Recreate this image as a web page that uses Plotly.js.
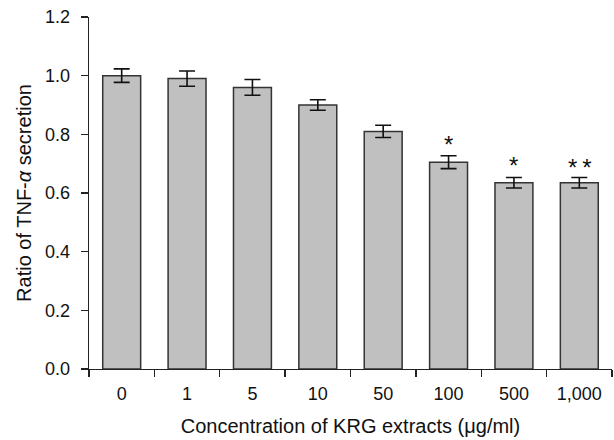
<!DOCTYPE html>
<html>
<head>
<meta charset="utf-8">
<script src="https://cdn.plot.ly/plotly-3.0.1.min.js"></script>
<style>html,body{margin:0;padding:0;background:#fff;} #chart{width:614px;height:440px;}</style>
</head>
<body>
<div id="chart"></div>
<script>
const categories = ['0', '1', '5', '10', '50', '100', '500', '1,000'];
const ratio = [1.00, 0.99, 0.96, 0.90, 0.81, 0.705, 0.635, 0.635];
const errors = [0.023, 0.026, 0.027, 0.018, 0.021, 0.022, 0.018, 0.018];
const significance = ['', '', '', '', '', '*', '*', '*\u2009*'];
const yTicks = [0, 0.2, 0.4, 0.6, 0.8, 1.0, 1.2];
const yTickLabels = ['0.0', '0.2', '0.4', '0.6', '0.8', '1.0', '1.2'];

const FONT = '"Liberation Sans", Arial, Helvetica, sans-serif';

const trace = {
  type: 'bar',
  x: categories,
  y: ratio,
  width: 0.58,
  marker: { color: '#c0c0c0', line: { color: '#333333', width: 1.5 } },
  error_y: { type: 'data', array: errors, visible: true, color: '#111111', thickness: 1.6, width: 8 },
  hoverinfo: 'none'
};

const annotations = [];
significance.forEach((s, i) => {
  if (!s) return;
  annotations.push({
    x: i, y: ratio[i] + errors[i], xref: 'x', yref: 'y',
    text: s, showarrow: false, yanchor: 'bottom',
    yshift: s.length > 1 ? -6 : -4,
    font: { family: FONT, size: 24, color: '#111' }
  });
});

const layout = {
  width: 614, height: 440,
  margin: { l: 89, r: 2, t: 17, b: 71, pad: 0 },
  paper_bgcolor: '#fff', plot_bgcolor: '#fff',
  showlegend: false,
  font: { family: FONT, color: '#111' },
  xaxis: {
    type: 'category',
    range: [-0.5, 7.5],
    showline: true, linecolor: '#222', linewidth: 1.3,
    ticks: 'outside', tickson: 'boundaries', ticklen: 7, tickwidth: 1.3, tickcolor: '#222',
    showgrid: false, zeroline: false,
    tickfont: { family: FONT, size: 18, color: '#111' },
    ticklabelstandoff: 8,
    title: { text: 'Concentration of KRG extracts (μg/ml)', font: { family: FONT, size: 20, color: '#111' }, standoff: 16 }
  },
  yaxis: {
    range: [0, 1.2],
    tickvals: yTicks, ticktext: yTickLabels,
    showline: true, linecolor: '#222', linewidth: 1.3,
    ticks: 'outside', ticklen: 7, tickwidth: 1.3, tickcolor: '#222',
    showgrid: false, zeroline: false,
    tickfont: { family: FONT, size: 18, color: '#111' },
    ticklabelstandoff: 7,
    title: { text: 'Ratio of TNF-<i>α</i> secretion', font: { family: FONT, size: 20, color: '#111' }, standoff: 8 }
  },
  annotations: annotations
};

Plotly.newPlot('chart', [trace], layout, { displayModeBar: false, staticPlot: true });
</script>
</body>
</html>
